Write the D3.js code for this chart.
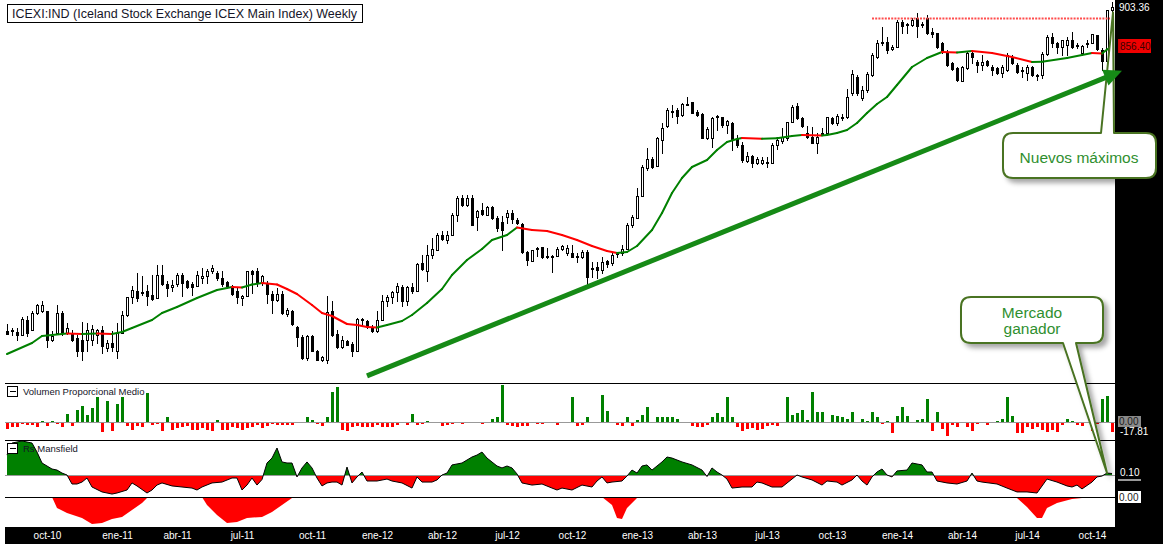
<!DOCTYPE html>
<html>
<head>
<meta charset="utf-8">
<script src="https://cdn.jsdelivr.net/npm/d3@7"></script>
<style>
body { margin: 0; background: #fff; }
svg { display: block; font-family: "Liberation Sans", Arial, sans-serif; }
</style>
</head>
<body>
<main></main>
<script>
// Weekly candles, first week ending 2010-08-06
const firstWeek = new Date(2010, 7, 6);
const opens = [515,516,514,510,528,516,536,539,539,504,512,536,512,512,506,504,504,504,510,516,
  494,500,491,512,534,556,563,562,563,558,554,582,571,568,571,582,575,571,569,578,
  581,587,584,578,574,569,563,554,557,587,587,572,572,559,552,559,535,539,520,508,
  482,509,491,480,480,539,511,496,503,499,491,528,527,520,515,528,551,556,562,568,
  551,568,563,596,587,606,612,630,624,630,654,674,666,674,652,660,654,664,650,646,
  652,656,648,643,610,599,614,616,605,604,605,613,608,608,605,604,610,590,592,588,
  599,596,607,608,613,642,650,677,710,721,713,744,761,779,780,774,787,790,778,775,
  746,746,773,772,762,764,745,738,719,725,716,716,718,716,738,743,746,766,785,770,
  752,748,740,752,752,770,764,772,772,800,820,794,804,822,844,860,862,853,856,886,
  883,882,890,883,890,874,872,860,850,836,830,815,830,848,838,834,839,832,830,824,
  828,844,834,828,824,832,822,822,847,868,860,856,858,864,858,848,860,860,870,852,
  839,900];
const highs = [523,518,518,532,533,539,547,551,539,515,546,539,524,516,510,526,524,522,517,521,
  504,515,524,539,556,569,584,581,570,582,594,594,575,576,584,584,576,574,587,590,
  589,594,587,587,575,570,566,558,587,588,590,582,575,563,566,563,542,540,521,510,
  510,510,492,485,557,551,516,509,504,502,530,530,528,522,539,558,558,563,572,570,
  569,572,596,606,618,626,632,635,635,656,677,678,678,678,660,668,665,665,653,653,
  660,660,650,644,611,612,616,616,614,606,616,618,618,618,608,612,612,598,598,604,
  600,608,610,618,644,654,686,714,734,724,748,764,782,786,782,788,796,790,780,776,
  760,772,774,772,768,766,750,742,730,726,724,724,724,740,748,758,766,786,788,772,
  761,760,752,758,772,772,775,775,805,828,822,809,826,848,864,880,868,858,888,888,
  884,890,896,886,894,878,872,862,852,838,832,833,850,852,840,846,840,834,832,834,
  848,846,836,832,834,833,823,850,870,872,862,864,868,874,860,858,864,871,870,854,
  900,910];
const lows = [511,510,504,510,509,516,535,538,496,503,512,510,511,503,485,480,491,498,500,488,
  491,491,482,512,533,548,551,558,546,552,554,570,557,563,569,557,566,558,569,572,
  572,584,576,569,566,558,548,546,557,560,569,570,548,536,551,535,533,522,497,481,
  480,491,480,479,476,509,494,494,498,485,491,521,518,514,514,528,545,548,551,545,
  546,560,563,588,575,602,612,624,620,630,647,665,665,642,636,654,654,649,635,612,
  644,644,643,608,594,599,605,602,602,586,605,612,606,604,598,602,570,580,578,584,
  592,594,604,606,613,640,650,677,708,710,713,728,760,772,764,773,786,776,773,746,
  745,736,756,760,752,732,736,718,718,712,715,715,712,716,733,740,744,766,769,760,
  746,740,728,750,752,763,762,768,770,798,798,792,802,821,842,858,848,852,856,872,
  872,881,868,880,871,868,854,848,833,828,815,815,829,836,826,828,833,822,823,820,
  827,835,824,820,816,821,816,818,846,856,848,846,846,854,854,846,856,860,852,828,
  839,898];
const closes = [511,515,510,529,512,536,546,546,504,509,536,512,518,504,491,491,516,517,516,497,
  500,496,512,534,556,564,554,561,557,553,582,571,566,570,582,572,568,568,582,581,
  587,590,578,571,569,559,556,557,587,583,572,581,559,552,559,536,540,523,508,482,
  509,491,480,484,538,510,496,504,498,491,529,529,520,515,528,551,556,562,569,551,
  568,563,595,589,606,613,630,625,630,654,674,666,674,642,659,655,664,650,638,636,
  656,649,644,610,600,612,613,604,604,605,613,617,614,604,604,610,580,589,588,598,
  595,606,608,613,642,652,677,712,721,712,746,758,780,778,773,787,786,776,774,746,
  757,770,772,762,767,744,738,720,725,716,721,720,716,738,744,748,766,784,770,761,
  748,740,748,751,772,764,773,771,796,823,800,804,823,846,860,862,852,856,886,881,
  882,888,881,882,872,871,856,850,834,829,816,832,848,844,834,838,834,828,824,832,
  846,836,826,827,832,822,821,847,868,860,856,864,864,856,857,857,859,871,853,839,
  900,903.36];

// Moving average (week index, value)
const maWeek = [0,5,7,12,15,18,21,23,25,29,31,34,38,42,45,47,49,51,54,56,58,61,63,65,68,70,72,74,76,79,
  81,84,87,89,92,95,97,100,102,105,108,111,114,117,120,122,124,126,129,131,133,135,137,140,142,144,146,147,151,154,
  157,159,163,164,166,168,170,172,174,176,178,181,184,187,190,193,197,201,205,207,212,217,219,220,221];
const maValue = [487.2,500.4,508.8,511.8,511.2,511.8,511.2,513.6,518.4,528,536.4,543.6,554.4,564,567.6,567.1,570.6,572.4,570.6,565.2,
  559.2,546,536.4,532.8,523.2,522,519.6,519,522,526.8,534,548.4,565.2,582,600,613.2,624,630,639,636,
  634.8,630,624,616.8,610.8,608.4,609.6,616.8,636,656.4,680.4,698.4,711.6,720,732,741.6,745.2,746.4,745.6,746,
  748.8,750,749.5,750,752.4,756,764.4,776.4,787.2,795.6,810,831.6,842.4,849.6,849.1,850.8,848.4,843.6,837.6,837.8,
  842.4,848.4,847.9,852.6,856.4];

const resistanceLevel = 890;
const resistanceFrom = 173;

// Volumen Proporcional Medio
const volume = [-11.9,-9.5,-9.5,-3.6,-5.9,-5.9,-9.5,2.4,-7.7,2.4,
  -3.6,-9.5,14.9,-7.7,22,29,13,25,45,-18.4,
  38,-16.6,32.7,45,-7.7,-13.7,-7.7,-9.5,52,-5.9,
  -3.6,-16.6,9.5,-13.7,-10.7,-9.5,-7.7,-13.7,-13.7,-10.7,
  -13.7,-16.6,4.2,-13.7,-13.7,-9.5,-10.7,-13.7,-10.7,-9.5,
  -4.8,-10.7,-7.7,-3.6,-5.9,-5.9,-5.9,-4.8,0,0,
  8.3,4.2,-3.6,-7.7,8.3,53.5,61.8,-13.7,-15.4,-9.5,
  -7.7,-9.5,-9.5,-9.5,-5.9,-9.5,-9.5,-9.5,-5.9,0,
  -4.8,14.9,-5.9,-3.6,2.4,-1.8,0,-7.7,-4.8,-3.6,
  0,-3.6,0,-1.8,-1.8,-3.6,0,5.9,8.3,66.5,
  -4.8,-7.7,-9.5,-7.7,-7.7,-2.4,-3.6,-3.6,0,-1.8,
  -5.9,-2.4,0,45,-7.7,-5.9,9.5,0,-1.8,48.7,
  20.2,-2.4,-5.9,-7.7,9.5,-7.7,4.2,13,27.3,-1.8,
  9.5,8.3,9.5,9.5,5.9,-1.8,-1.8,-7.7,-9.5,-9.5,
  -5.9,9.5,16.6,8.3,44,9.5,-9.5,-16.6,-11.9,-10.7,
  -13.7,-11.9,-7.7,-5.9,-7.7,-1.8,44,13,16,22,
  4.2,52.9,17.8,17.8,-1.8,13,10,8.3,5.9,17.8,
  0,5.9,2.4,17.8,8.3,-3.6,2.4,-19.6,10,27.3,
  10,-2.4,4.2,5.9,41.6,-16.6,17.2,-11.9,-25.5,-5.9,
  -9.5,0,-9.5,-16.6,-3.6,-1.8,-5.9,0,2.4,5.9,
  44,10,-19.6,-19.6,-9.5,-11.9,-9.5,-13.7,-17.8,-13.7,
  -17.8,-4.8,5.9,2.4,-4.8,-7.7,0,-15.4,-3.6,41.6,
  47,-17.81];

// Rs Mansfield (week index, value)
const rsWeek = [0,1,3,5,6,7,9,10,11,12,13,14,15,16,17,19,21,22,24,25,26,28,29,30,31,33,35,37,38,39,
  41,43,45,46,47,48,49,50,51,52,53,54,55,56,57,58,59,60,61,62,63,64,65,66,67,68,69,70,71,72,
  74,76,77,79,81,82,83,85,86,87,88,89,91,93,94,95,96,98,99,100,101,102,103,105,107,109,110,111,113,115,
  117,118,119,120,121,123,124,125,126,127,128,129,131,132,133,135,137,139,140,141,142,143,144,145,147,149,150,151,153,155,
  157,158,159,161,163,164,166,167,169,170,171,172,173,174,175,176,177,178,180,181,183,184,185,186,188,190,192,193,194,195,
  198,200,202,204,206,208,210,212,213,214,215,217,218,219,220,221];
const rsValue = [1.33,2.13,2.27,2.13,1.53,0.8,0.4,0.33,0.13,0,-0.6,-0.6,-0.47,-0.2,-0.8,-1.13,-1.27,-1.2,-1.0,-0.53,-0.73,-1.2,-1.0,-0.67,-0.53,-0.73,-0.8,-0.87,-1.0,-0.8,
  -0.53,-0.47,-0.2,-0.2,-1.0,-0.67,-0.2,-0.67,-0.3,0.8,1.13,1.8,0.87,0.8,0.8,-0.13,0.47,0.87,0.47,-0.2,-0.73,-0.53,-0.47,-0.47,-0.67,0.53,-0.53,-0.13,0.2,-0.4,
  -0.4,-0.27,-0.4,-0.53,-0.87,-0.13,-0.47,-0.47,-0.33,0,0.13,0.67,0.8,1.2,1.33,1.53,1.13,0.6,0.47,0.6,0.47,0.07,-0.53,-0.67,-0.6,-0.87,-1.0,-0.87,-1.0,-0.67,
  -0.8,-0.4,-0.13,-0.53,-0.47,-0.4,-0.07,0.33,0.13,0.6,0.67,0.33,0.87,1.2,1.13,0.87,0.67,0.33,-0.1,0.47,0.2,0,-0.27,-0.87,-0.8,-0.8,-0.47,-0.53,-0.8,-0.8,
  -0.27,0,-0.13,-0.33,-0.67,-0.4,-0.47,-0.67,-0.33,0,-0.4,-0.67,-0.13,0.2,0.4,0,-0.13,0.27,0.33,0.8,0.67,0.2,0.2,-0.4,-0.53,-0.6,-0.4,0.13,-0.4,-0.47,
  -0.6,-0.87,-1.13,-1.13,-1.2,-0.27,-0.47,-0.73,-0.8,-0.67,-0.93,-0.47,-0.13,-0.07,0.13,0.10];

// second Mansfield panel (only negative stretches)
const rsLowWeek = [0,9,10,12,15,17,19,21,23,25,27,28,29,39,40,42,44,46,48,51,53,55,57,58,
  119,121,122,123,124,126,127,201,202,204,206,207,208,210,213,215,216,221];
const rsLowValue = [0,0,-0.73,-1.07,-1.4,-1.8,-1.73,-1.47,-1.33,-0.87,-0.4,-0.07,0,0,-0.53,-1.2,-1.73,-1.67,-1.4,-1.33,-1.0,-0.53,-0.07,0,
  0,-0.53,-1.4,-1.47,-0.73,-0.07,0,0,-0.07,-0.67,-1.4,-1.4,-0.73,-0.4,-0.13,-0.07,0,0];

const meses = ["ene","feb","mar","abr","may","jun","jul","ago","sep","oct","nov","dic"];

const width = 1163, height = 544;
const plotRight = 1115;

const svg = d3.select("main").append("svg")
    .attr("width", width)
    .attr("height", height);

const defs = svg.append("defs");
const shadow = defs.append("filter").attr("id", "shadow")
    .attr("x", "-20%").attr("y", "-20%").attr("width", "150%").attr("height", "150%");
shadow.append("feDropShadow")
    .attr("dx", 4).attr("dy", 4).attr("stdDeviation", 2.5)
    .attr("flood-color", "#000").attr("flood-opacity", 0.35);

const x = d3.scaleLinear().domain([0, closes.length - 1]).range([7, 1112]);
const yPrice = d3.scaleLinear().domain([453.6, 912]).range([382, 0]);
const yVol = d3.scaleLinear().domain([-32.06, 69.46]).range([440, 383]);
const yRs = d3.scaleLinear().domain([-1.4667, 2.2667]).range([497, 441]);
const yRsLow = d3.scaleLinear().domain([-2, 0]).range([527, 497]);

const px = i => Math.round(x(i));

// candles
const candles = closes.map((c, i) => ({ i, o: opens[i], h: highs[i], l: lows[i], c }));
const candleG = svg.append("g").attr("shape-rendering", "crispEdges");

candleG.selectAll("line")
    .data(candles)
    .join("line")
    .attr("x1", d => px(d.i) + 0.5)
    .attr("x2", d => px(d.i) + 0.5)
    .attr("y1", d => Math.round(yPrice(d.h)))
    .attr("y2", d => Math.round(yPrice(d.l)) + 1)
    .attr("stroke", "#000");

candleG.selectAll("rect")
    .data(candles)
    .join("rect")
    .attr("x", d => px(d.i) - 0.5)
    .attr("y", d => Math.round(yPrice(Math.max(d.o, d.c))) + 0.5)
    .attr("width", 2)
    .attr("height", d => Math.max(1, Math.round(yPrice(Math.min(d.o, d.c))) - Math.round(yPrice(Math.max(d.o, d.c)))))
    .attr("fill", d => d.c >= d.o ? "#fff" : "#000")
    .attr("stroke", "#000");

// moving average, red while falling
const ma = maWeek.map((w, k) => ({ w, v: maValue[k] }));
svg.append("g")
    .selectAll("line")
    .data(d3.pairs(ma))
    .join("line")
    .attr("x1", d => x(d[0].w))
    .attr("y1", d => yPrice(d[0].v))
    .attr("x2", d => x(d[1].w))
    .attr("y2", d => yPrice(d[1].v))
    .attr("stroke", d => d[1].v < d[0].v ? "#ff0000" : "#008000")
    .attr("stroke-width", 2)
    .attr("stroke-linecap", "round");

// previous high
svg.append("line")
    .attr("x1", x(resistanceFrom))
    .attr("x2", x(closes.length - 1) - 2)
    .attr("y1", Math.round(yPrice(resistanceLevel)) + 0.5)
    .attr("y2", Math.round(yPrice(resistanceLevel)) + 0.5)
    .attr("stroke", "#ff4d4d")
    .attr("stroke-width", 2)
    .attr("stroke-dasharray", "2,1.2");

// volume panel
const volG = svg.append("g").attr("shape-rendering", "crispEdges");
volG.selectAll("rect")
    .data(volume.map((v, i) => ({ i, v })).filter(d => d.v !== 0))
    .join("rect")
    .attr("x", d => px(d.i) - 1)
    .attr("width", 3)
    .attr("y", d => d.v > 0 ? Math.round(yVol(d.v)) : Math.round(yVol(0)))
    .attr("height", d => Math.abs(Math.round(yVol(d.v)) - Math.round(yVol(0))))
    .attr("fill", d => d.v > 0 ? "#008000" : "#ff0000");

volG.append("line")
    .attr("x1", 5).attr("x2", plotRight)
    .attr("y1", Math.round(yVol(0)) + 0.5).attr("y2", Math.round(yVol(0)) + 0.5)
    .attr("stroke", "#999");

// Rs Mansfield
const rs = rsWeek.map((w, k) => ({ w, v: rsValue[k] }));
const zeroRs = yRs(0);
defs.append("clipPath").attr("id", "rsPos")
    .append("rect").attr("x", 0).attr("y", 441).attr("width", plotRight).attr("height", zeroRs - 441);
defs.append("clipPath").attr("id", "rsNeg")
    .append("rect").attr("x", 0).attr("y", zeroRs).attr("width", plotRight).attr("height", 497 - zeroRs);

const rsArea = d3.area()
    .x(d => x(d.w))
    .y0(zeroRs)
    .y1(d => yRs(d.v));

svg.append("path").datum(rs).attr("d", rsArea).attr("fill", "#008000").attr("clip-path", "url(#rsPos)");
svg.append("path").datum(rs).attr("d", rsArea).attr("fill", "#ff0000").attr("clip-path", "url(#rsNeg)");

svg.append("line")
    .attr("x1", 5).attr("x2", plotRight)
    .attr("y1", Math.round(zeroRs) + 0.5).attr("y2", Math.round(zeroRs) + 0.5)
    .attr("stroke", "#999")
    .attr("shape-rendering", "crispEdges");

svg.append("path").datum(rs)
    .attr("d", d3.line().x(d => x(d.w)).y(d => yRs(d.v)))
    .attr("fill", "none")
    .attr("stroke", "#000")
    .attr("stroke-width", 1);

const rsLow = rsLowWeek.map((w, k) => ({ w, v: rsLowValue[k] }));
svg.append("path").datum(rsLow)
    .attr("d", d3.area().x(d => x(d.w)).y0(yRsLow(0)).y1(d => yRsLow(d.v)))
    .attr("fill", "#ff0000");

// panel separators
svg.append("g").attr("shape-rendering", "crispEdges")
    .selectAll("line")
    .data([383, 440, 497])
    .join("line")
    .attr("x1", 5).attr("x2", plotRight)
    .attr("y1", d => d + 0.5).attr("y2", d => d + 0.5)
    .attr("stroke", "#000");

// panel headers
const headers = [{ t: "Volumen Proporcional Medio", y: 386 }, { t: "Rs Mansfield", y: 443 }];
const hg = svg.append("g").selectAll("g").data(headers).join("g");
hg.append("rect")
    .attr("x", 7.5).attr("y", d => d.y + 0.5).attr("width", 10).attr("height", 10)
    .attr("fill", "#fff").attr("stroke", "#000").attr("shape-rendering", "crispEdges");
hg.append("line")
    .attr("x1", 10).attr("x2", 16).attr("y1", d => d.y + 5.5).attr("y2", d => d.y + 5.5)
    .attr("stroke", "#000").attr("shape-rendering", "crispEdges");
hg.append("text")
    .attr("x", 23).attr("y", d => d.y + 9)
    .attr("font-size", "9.5px").attr("fill", "#141428")
    .text(d => d.t);

// right axis column and bottom time bar
svg.append("rect").attr("x", plotRight).attr("y", 0).attr("width", width - plotRight).attr("height", height).attr("fill", "#000");
svg.append("rect").attr("x", 5).attr("y", 527).attr("width", width - 5).attr("height", height - 527).attr("fill", "#000");

// time labels: first week of each quarter month
const dates = closes.map((c, i) => d3.timeDay.offset(firstWeek, 7 * i));
const ticks = dates.map((d, i) => ({ d, i }))
    .filter(({ d, i }) => i > 0 && d.getMonth() !== dates[i - 1].getMonth() && d.getMonth() % 3 === 0);
svg.append("g").selectAll("text")
    .data(ticks)
    .join("text")
    .attr("x", d => px(d.i) + 0.5)
    .attr("y", 539)
    .attr("text-anchor", "middle")
    .attr("font-size", "10px")
    .attr("fill", "#fff")
    .text(d => meses[d.d.getMonth()] + "-" + String(d.d.getFullYear()).slice(2));

// right axis value tags
const lastClose = closes[closes.length - 1];
const lastMa = maValue[maValue.length - 1];
const lastVol = volume[volume.length - 1];
const lastRs = rsValue[rsValue.length - 1];

svg.append("text").attr("x", 1119).attr("y", yPrice(lastClose) + 3.5)
    .attr("font-size", "10px").attr("fill", "#fff").text(lastClose.toFixed(2));

svg.append("rect").attr("x", 1118).attr("y", Math.round(yPrice(lastMa)) - 7).attr("width", 33).attr("height", 14).attr("fill", "#f00000");
svg.append("text").attr("x", 1120).attr("y", yPrice(lastMa) + 3.5)
    .attr("font-size", "10px").attr("fill", "#3c0000").text(lastMa.toFixed(2));

svg.append("rect").attr("x", 1118).attr("y", Math.round(yVol(0)) - 6).attr("width", 23).attr("height", 11).attr("fill", "#8a8a8a");
svg.append("text").attr("x", 1119).attr("y", yVol(0) + 3.5)
    .attr("font-size", "10px").attr("fill", "#1a1a1a").text((0).toFixed(2));
svg.append("text").attr("x", 1120).attr("y", yVol(lastVol) + 3.5)
    .attr("font-size", "10px").attr("fill", "#fff").text(lastVol.toFixed(2));

svg.append("text").attr("x", 1120).attr("y", yRs(lastRs) + 2.5)
    .attr("font-size", "10px").attr("fill", "#fff").text(lastRs.toFixed(2));
svg.append("line").attr("x1", 1118).attr("x2", 1141)
    .attr("y1", Math.round(zeroRs) + 5).attr("y2", Math.round(zeroRs) + 5)
    .attr("stroke", "#999").attr("stroke-width", 2);

svg.append("rect").attr("x", 1118).attr("y", yRsLow(0) - 6).attr("width", 23).attr("height", 12).attr("fill", "#fff");
svg.append("text").attr("x", 1119).attr("y", yRsLow(0) + 3.5)
    .attr("font-size", "10px").attr("fill", "#1a1a1a").text((0).toFixed(2));

// callouts
function calloutPath(b, tip, side) {
    const r = 10;
    const { x0, y0, x1, y1, bx0, bx1 } = b;
    if (side === "top") {
        return `M${x0 + r},${y0}L${bx0},${y0}L${tip[0]},${tip[1]}L${bx1},${y0}L${x1 - r},${y0}Q${x1},${y0} ${x1},${y0 + r}` +
            `L${x1},${y1 - r}Q${x1},${y1} ${x1 - r},${y1}L${x0 + r},${y1}Q${x0},${y1} ${x0},${y1 - r}L${x0},${y0 + r}Q${x0},${y0} ${x0 + r},${y0}Z`;
    }
    return `M${x0 + r},${y0}L${x1 - r},${y0}Q${x1},${y0} ${x1},${y0 + r}L${x1},${y1 - r}Q${x1},${y1} ${x1 - r},${y1}` +
        `L${bx1},${y1}L${tip[0]},${tip[1]}L${bx0},${y1}L${x0 + r},${y1}Q${x0},${y1} ${x0},${y1 - r}L${x0},${y0 + r}Q${x0},${y0} ${x0 + r},${y0}Z`;
}

const callouts = [
    { box: { x0: 1003, y0: 133, x1: 1156, y1: 178, bx0: 1101, bx1: 1114 }, tip: [x(221.2), yPrice(897)], side: "top",
      lines: [{ t: "Nuevos máximos", y: 162.5 }], cx: 1079 },
    { box: { x0: 961, y0: 297, x1: 1103, y1: 343, bx0: 1063, bx1: 1076 }, tip: [x(220), yRs(0.13)], side: "bottom",
      lines: [{ t: "Mercado", y: 317.5 }, { t: "ganador", y: 333.5 }], cx: 1032 }
];

const cgrp = svg.append("g").selectAll("g").data(callouts).join("g");
cgrp.append("path")
    .attr("d", d => calloutPath(d.box, d.tip, d.side))
    .attr("fill", "#fff")
    .attr("stroke", "#4a7322")
    .attr("stroke-width", 2)
    .attr("stroke-linejoin", "round")
    .attr("filter", "url(#shadow)");
cgrp.each(function (d) {
    d3.select(this).selectAll("text")
        .data(d.lines)
        .join("text")
        .attr("x", d.cx)
        .attr("y", l => l.y)
        .attr("text-anchor", "middle")
        .attr("font-size", "15.5px")
        .attr("fill", "#2f8f2f")
        .text(l => l.t);
});

// trend arrow, drawn over the callout pointer
const trendStart = { w: 72, v: 461 };
const trendEnd = { w: 223, v: 827 };
const p0 = [x(trendStart.w), yPrice(trendStart.v)];
const p1 = [x(trendEnd.w), yPrice(trendEnd.v)];
const ang = Math.atan2(p1[1] - p0[1], p1[0] - p0[0]);
const headLen = 18, headHalf = 8.5;
const base = [p1[0] - headLen * Math.cos(ang), p1[1] - headLen * Math.sin(ang)];
svg.append("line")
    .attr("x1", p0[0]).attr("y1", p0[1])
    .attr("x2", base[0] + 2 * Math.cos(ang)).attr("y2", base[1] + 2 * Math.sin(ang))
    .attr("stroke", "#168a16").attr("stroke-width", 5);
svg.append("path")
    .attr("d", "M" + p1 + "L" + [base[0] - headHalf * Math.sin(ang), base[1] + headHalf * Math.cos(ang)]
        + "L" + [base[0] + headHalf * Math.sin(ang), base[1] - headHalf * Math.cos(ang)] + "Z")
    .attr("fill", "#168a16");

// title
svg.append("rect")
    .attr("x", 7.5).attr("y", 4.5).attr("width", 355).attr("height", 18)
    .attr("fill", "#fff").attr("stroke", "#000").attr("shape-rendering", "crispEdges");
svg.append("text")
    .attr("x", 12).attr("y", 17.5)
    .attr("font-size", "12.5px")
    .attr("fill", "#141428")
    .text("ICEXI:IND (Iceland Stock Exchange ICEX Main Index) Weekly");
</script>
</body>
</html>
